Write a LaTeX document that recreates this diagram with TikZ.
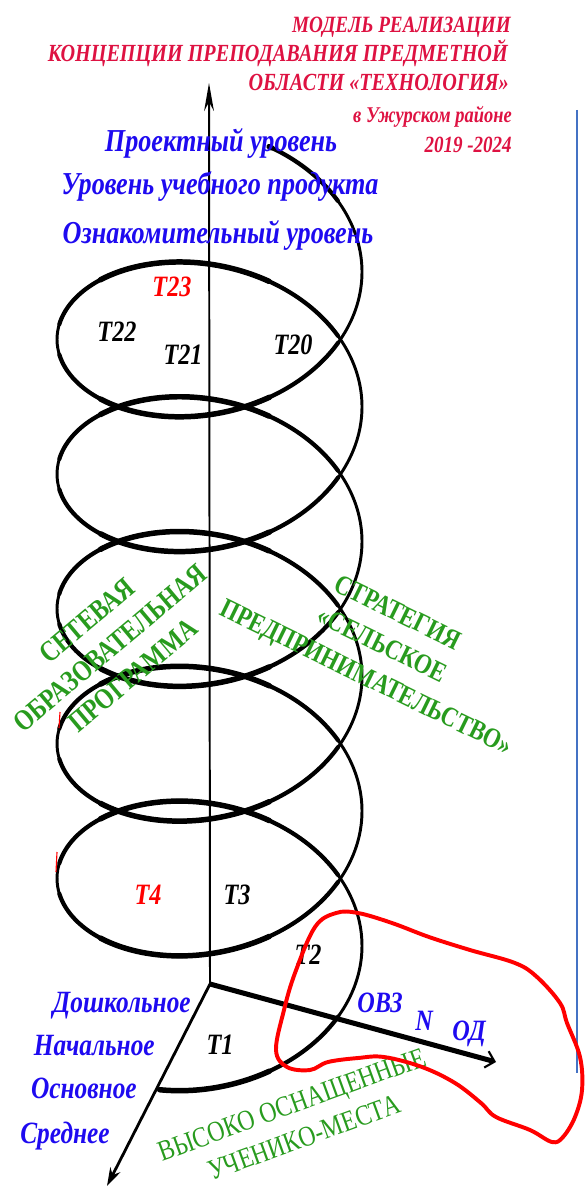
\documentclass[tikz,border=0pt]{standalone}
\usepackage{fontspec}
\setmainfont{Liberation Serif}[FakeStretch=0.82]
\usetikzlibrary{arrows.meta}
\definecolor{titlered}{RGB}{222,18,66}
\definecolor{lvlblue}{RGB}{30,10,240}
\definecolor{stratgreen}{RGB}{40,155,30}
\definecolor{frameblue}{RGB}{68,114,196}
\newcommand{\coilx}[1]{209.5+152.5*cos(#1 r)}
\newcommand{\coily}[1]{272+21.45*#1+109*sin(#1 r)}
\tikzset{
  coil/.style={black,line cap=round,line join=round},
  titleline/.style={anchor=base east,inner sep=0pt,text=titlered,
        font=\fontsize{17.5}{21}\selectfont\bfseries\itshape},
  levellabel/.style={anchor=base,inner sep=0pt,text=lvlblue,
        font=\fontsize{22.7}{26}\selectfont\bfseries\itshape},
  grouplabel/.style={anchor=base,inner sep=0pt,text=lvlblue,
        font=\fontsize{21}{25}\selectfont\bfseries\itshape},
  stagelabel/.style={anchor=base east,inner sep=0pt,text=lvlblue,
        font=\fontsize{22}{26}\selectfont\bfseries\itshape},
  tlabel/.style={inner sep=0pt,font=\fontsize{21}{25}\selectfont\bfseries\itshape},
  greenblock/.style={inner sep=0pt,align=center,text=stratgreen},
}
\begin{document}
\begin{tikzpicture}[x=0.025cm,y=-0.025cm]
  \useasboundingbox (0,0) rectangle (585,1188);

  % coil of the model, thin at the sides and heavy at top and bottom
  \draw[coil,line width=2.1pt]
        plot[domain=-1.15:33.32,samples=700,smooth,variable=\t]
        ({\coilx{\t}},{\coily{\t}});
  \foreach \c in {-1.77,1.767,4.515,8.050,10.798,14.333,17.081,20.616,23.365,26.900,29.648,33.183}{
    \pgfmathsetmacro{\tlo}{max(-1.15,\c-1.2)}
    \pgfmathsetmacro{\thi}{min(33.32,\c+1.2)}
    \draw[coil,line width=3.0pt]
          plot[domain=\tlo:\thi,samples=60,smooth,variable=\t]
          ({\coilx{\t}},{\coily{\t}});
    \pgfmathsetmacro{\tlo}{max(-1.15,\c-0.6)}
    \pgfmathsetmacro{\thi}{min(33.32,\c+0.6)}
    \draw[coil,line width=3.9pt]
          plot[domain=\tlo:\thi,samples=40,smooth,variable=\t]
          ({\coilx{\t}},{\coily{\t}});
  }
  \draw[red,line width=0.8pt] (60,712) -- (59,728);
  \draw[red,line width=0.8pt] (57,852) -- (56,872);

  % axes
  \coordinate (origin) at (210,984);
  \coordinate (levelaxis) at (209,83);
  \coordinate (stageaxis) at (107,1186);
  \coordinate (groupaxis) at (496,1062);
  \draw[line width=1.4pt,-{Stealth[length=20pt,width=7pt]}] (origin) -- (levelaxis);
  \draw[line width=2pt,-{Stealth[length=13pt,width=8pt]}] (origin) -- (stageaxis);
  \draw[line width=3.6pt,-{Straight Barb[length=6pt,width=12pt,line width=1.5pt]}]
        (origin) -- (groupaxis);

  % title
  \node[titleline,font=\fontsize{16.6}{21}\selectfont\bfseries\itshape]
        (titleA) at (511,33) {МОДЕЛЬ РЕАЛИЗАЦИИ};
  \node[titleline] (titleB) at (508,62) {КОНЦЕПЦИИ ПРЕПОДАВАНИЯ ПРЕДМЕТНОЙ};
  \node[titleline] (titleC) at (509,91) {ОБЛАСТИ «ТЕХНОЛОГИЯ»};
  \node[titleline,font=\fontsize{16}{19}\selectfont\bfseries\itshape]
        (placeline) at (512,123) {в Ужурском районе};
  \node[titleline,font=\fontsize{16.5}{19}\selectfont\bfseries\itshape]
        (yearsline) at (512,153) {2019 -2024};

  % levels
  \node[levellabel] (lvlproject) at (221,152) {Проектный уровень};
  \node[levellabel] (lvlproduct) at (220,195) {Уровень учебного продукта};
  \node[levellabel] (lvlintro) at (218,243) {Ознакомительный уровень};

  % topics on the coil
  \node[tlabel,text=red] (t23) at (172,287) {T23};
  \node[tlabel] (t22) at (117,332) {T22};
  \node[tlabel] (t21) at (183,355) {T21};
  \node[tlabel] (t20) at (293,345) {T20};
  \node[tlabel,text=red] (t4) at (148,895) {T4};
  \node[tlabel] (t3) at (237,895) {T3};
  \node[tlabel] (t2) at (308,955) {T2};
  \node[tlabel] (t1) at (220,1045) {T1};

  % school stages
  \node[stagelabel] (preschool) at (191,1012) {Дошкольное};
  \node[stagelabel] (primary) at (155,1055) {Начальное};
  \node[stagelabel] (basic) at (137,1098) {Основное};
  \node[stagelabel] (senior) at (110,1143) {Среднее};

  % learner groups
  \node[grouplabel] (ovz) at (380,1012) {ОВЗ};
  \node[grouplabel] (nlabel) at (424,1030) {N};
  \node[grouplabel] (odlabel) at (469,1040) {ОД};

  % green notes
  \node[greenblock,rotate=40,font=\fontsize{20.8}{25.5}\selectfont\bfseries]
        (network) at (110,648) {СЕТЕВАЯ\\ОБРАЗОВАТЕЛЬНАЯ\\ПРОГРАММА};
  \node[greenblock,rotate=-26,font=\fontsize{19.8}{25.5}\selectfont\bfseries]
        (strategy) at (381,647) {СТРАТЕГИЯ\\«СЕЛЬСКОЕ\\ПРЕДПРИНИМАТЕЛЬСТВО»};
  \node[greenblock,rotate=20,font=\fontsize{20.5}{25}\selectfont]
        (workplaces) at (298,1121) {ВЫСОКО ОСНАЩЕННЫЕ\\УЧЕНИКО-МЕСТА};

  % frame line
  \draw[frameblue,line width=1.6pt] (577,110) -- (577,1073);

  % hand-drawn mark
  \draw[red,line width=2.8pt,line join=round]
        plot[smooth cycle,tension=0.6] coordinates {
        (336,913) (315,927) (295,973) (284,1010) (276,1050) (287,1067)
        (310,1070) (328,1062) (358,1058) (384,1057) (422,1067) (455,1083)
        (481,1103) (496,1117) (530,1130) (552,1142) (563,1137) (575,1117)
        (582,1090) (580,1057) (567,1023) (560,1003) (537,977) (515,963)
        (470,950) (429,937) (392,923) (358,913)};
\end{tikzpicture}
\end{document}
